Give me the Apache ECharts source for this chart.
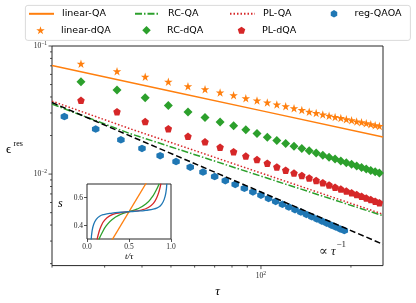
<!DOCTYPE html>
<html><head><meta charset="utf-8">
<script src="https://cdn.jsdelivr.net/npm/echarts@6/dist/echarts.min.js"></script>
<style>html,body{margin:0;padding:0;background:#fff}#c{width:416px;height:303px}</style>
</head><body><div id="c"></div>
<script>
// ---------- data ----------
const lineTau = [20, 50, 100, 256];
const linearQA = [0.0705, 0.0444, 0.0313, 0.0195];
const rcQA_tau = [20, 36.5, 100, 256];
const rcQA = [0.0352, 0.0207, 0.00964, 0.00473];
const plQA_tau = [20, 36.5, 100, 256];
const plQA = [0.0371, 0.0226, 0.0102, 0.00486];
const fitTau = [20, 100, 256];
const fitInvTau = [0.0362, 0.00725, 0.00283];

const dqaTau = [25,33,41,49,57,65,73,81,89,97,105,113,121,129,137,145,153,161,169,177,185,193,201,209,217,225,233,241,249];
const linearDQA = [0.0727,0.0634,0.0575,0.0526,0.0486,0.0459,0.0433,0.0412,0.0391,0.0376,0.0362,0.0350,0.0338,0.0326,0.0316,0.0307,0.0300,0.02925,0.02859,0.02794,0.02735,0.02683,0.0263,0.02579,0.02534,0.0249,0.02446,0.02407,0.02369];
const rcDQA = [0.0526,0.0453,0.0395,0.0343,0.0305,0.0276,0.0255,0.0238,0.0222,0.0207,0.0194,0.01826,0.01732,0.0165,0.01585,0.01519,0.01461,0.01405,0.01356,0.01311,0.01268,0.01228,0.01191,0.01158,0.01126,0.01096,0.01068,0.01041,0.01018];
const plDQA = [0.0377,0.0307,0.0257,0.0226,0.0197,0.01785,0.01622,0.01495,0.01383,0.01297,0.01215,0.01138,0.01073,0.01018,0.00977,0.00933,0.00893,0.00856,0.00823,0.00791,0.00764,0.00737,0.00714,0.00692,0.0067,0.0065,0.00632,0.00615,0.00598];

const qaoaTau = [22,28,34,40,46,52,58,64,70,76,82,88,94,100,106,112,118,124,130,136,142,148,154,160,166,172,178,184,190];
const regQAOA = [0.0281,0.02247,0.0185,0.01587,0.01393,0.01253,0.01133,0.01036,0.00956,0.00889,0.00831,0.00774,0.00725,0.00684,0.00645,0.00611,0.00581,0.00553,0.00527,0.00505,0.00484,0.00464,0.00446,0.00429,0.00414,0.00399,0.00386,0.00373,0.00362];

// inset schedules s(t/tau)
const insetLinear = [[0,0],[1,1]];
const insetRC = [[0.14,0.30],[0.18,0.35],[0.23,0.40],[0.30,0.445],[0.40,0.48],[0.50,0.50],[0.60,0.52],[0.70,0.555],[0.77,0.60],[0.82,0.65],[0.86,0.70]];
const insetPL = [[0.12,0.30],[0.14,0.35],[0.17,0.40],[0.21,0.44],[0.27,0.47],[0.35,0.488],[0.50,0.50],[0.65,0.512],[0.73,0.53],[0.79,0.56],[0.83,0.60],[0.86,0.65],[0.88,0.70]];
const insetQAOA = [[0.05,0.30],[0.06,0.36],[0.08,0.41],[0.11,0.445],[0.15,0.468],[0.20,0.48],[0.30,0.49],[0.40,0.496],[0.50,0.50],[0.60,0.504],[0.70,0.51],[0.80,0.52],[0.85,0.532],[0.89,0.555],[0.92,0.59],[0.94,0.64],[0.95,0.70]];

// ticks
const xMajorTicks = [100];
const xMinorTicks = [20,30,40,50,60,70,80,90,200];
const yMajorTicks = [0.01, 0.1];
const yMinorTicks = [0.002,0.003,0.004,0.005,0.006,0.007,0.008,0.009,0.02,0.03,0.04,0.05,0.06,0.07,0.08,0.09];
const insetXTicks = [0, 0.5, 1];
const insetYTicks = [0.4, 0.6];

const X_MIN = 20, X_MAX = 256, Y_MIN = 0.00193, Y_MAX = 0.1;

// ---------- helpers ----------
const zip = (a, b) => a.map((v, i) => [v, b[i]]);
const C = {orange:'#ff7f0e', green:'#2ca02c', red:'#d62728', blue:'#1f77b4'};
const STAR = 'path://M0,-10L2.245,-3.09L9.511,-3.09L3.633,1.18L5.878,8.09L0,3.82L-5.878,8.09L-3.633,1.18L-9.511,-3.09L-2.245,-3.09Z';
const PENT = 'path://M0,-10L9.511,-3.09L5.878,8.09L-5.878,8.09L-9.511,-3.09Z';
const HEX = 'path://M0,-10L8.66,-5L8.66,5L0,10L-8.66,5L-8.66,-5Z';
const SERIF = '"Liberation Serif","DejaVu Serif",serif';
const AX = '#262626';

function pow10Label(v) {
  const e = Math.log10(v), r = Math.round(e);
  if (Math.abs(e - r) > 1e-6) return '';
  return '{b|10}{s|' + (r < 0 ? '\u2212' : '') + Math.abs(r) + '}';
}
const tickRich = {
  b: {fontFamily: SERIF, fontSize: 7.5, color: AX},
  s: {fontFamily: SERIF, fontSize: 5.5, color: AX, padding: [0, 0, 5, 0]}
};

const tickData = [];
xMajorTicks.forEach(v => tickData.push([v, Y_MIN, 0]));
xMinorTicks.forEach(v => tickData.push([v, Y_MIN, 1]));
yMajorTicks.forEach(v => tickData.push([X_MIN, v, 2]));
yMinorTicks.forEach(v => tickData.push([X_MIN, v, 3]));

function renderTick(params, api) {
  const p = api.coord([api.value(0), api.value(1)]);
  const t = api.value(2);
  const len = (t === 0 || t === 2) ? 3.5 : 2;
  const shape = t < 2 ? {x1: p[0], y1: p[1], x2: p[0], y2: p[1] + len}
                      : {x1: p[0] - len, y1: p[1], x2: p[0], y2: p[1]};
  return {type: 'line', shape: shape, style: {stroke: AX, lineWidth: 0.8}};
}

const LTEXT = {fontFamily: '"DejaVu Sans"', fontSize: 9.5, color: '#000'};
function lineLegend(name, left, cy) {
  return {
    data: [name], left: left, top: cy - 5.5, padding: 0, orient: 'vertical',
    itemWidth: 25, itemHeight: 7, selectedMode: false,
    itemStyle: {opacity: 0},
    textStyle: Object.assign({padding: [0, 0, 0, 3]}, LTEXT)
  };
}
function markLegend(name, left, cy, size) {
  return {
    data: [name], left: left + 12.5 - size / 2, top: cy - 5.5, padding: 0, orient: 'vertical',
    itemWidth: size, itemHeight: size, selectedMode: false, symbolKeepAspect: true,
    itemStyle: {opacity: 1},
    textStyle: Object.assign({padding: [0, 0, 0, 33 - 5 - (12.5 + size / 2)]}, LTEXT)
  };
}

const option = {
  animation: false,
  backgroundColor: '#fff',
  grid: [
    {left: 52, top: 46, width: 331, height: 223, show: true, borderColor: AX, borderWidth: 1, backgroundColor: 'transparent'},
    {left: 87, top: 184, width: 84, height: 55, show: true, borderColor: AX, borderWidth: 1, backgroundColor: '#fff'}
  ],
  xAxis: [
    {type: 'log', logBase: 10, gridIndex: 0, min: X_MIN, max: X_MAX,
     axisLine: {show: false}, axisTick: {show: false}, splitLine: {show: false}, minorTick: {show: false},
     axisLabel: {formatter: pow10Label, rich: tickRich, margin: 5, showMinLabel: false, showMaxLabel: false},
     name: '\u03c4', nameLocation: 'middle', nameGap: 14,
     nameTextStyle: {fontFamily: SERIF, fontStyle: 'italic', fontSize: 13, color: '#000'}},
    {type: 'value', gridIndex: 1, min: 0, max: 1, interval: 0.5,
     axisLine: {show: false}, splitLine: {show: false},
     axisTick: {show: true, length: 3, lineStyle: {color: AX, width: 0.8}},
     axisLabel: {formatter: v => v.toFixed(1), fontFamily: SERIF, fontSize: 7.5, color: AX, margin: 4},
     name: 't/\u03c4', nameLocation: 'middle', nameGap: 13,
     nameTextStyle: {fontFamily: SERIF, fontStyle: 'italic', fontSize: 9, color: '#000'}}
  ],
  yAxis: [
    {type: 'log', logBase: 10, gridIndex: 0, min: Y_MIN, max: Y_MAX,
     axisLine: {show: false}, axisTick: {show: false}, splitLine: {show: false},
     axisLabel: {formatter: pow10Label, rich: tickRich, margin: 5, showMinLabel: false}},
    {type: 'value', gridIndex: 1, min: 0.305, max: 0.698,
     axisLine: {show: false}, splitLine: {show: false},
     axisTick: {show: true, length: 3, customValues: insetYTicks, lineStyle: {color: AX, width: 0.8}},
     axisLabel: {customValues: insetYTicks, formatter: v => v.toFixed(1), fontFamily: SERIF, fontSize: 7.5, color: AX, margin: 4}}
  ],
  legend: [
    lineLegend('linear-QA', 28, 14.3), markLegend('linear-dQA', 28, 30.7, 8.5),
    lineLegend('RC-QA', 134, 14.3), markLegend('RC-dQA', 134, 30.7, 8.5),
    lineLegend('PL-QA', 229, 14.3), markLegend('PL-dQA', 229, 30.7, 7.5),
    markLegend('reg-QAOA', 322, 14.3, 7.5)
  ],
  graphic: [
    {type: 'rect', left: 25, top: 5, z: 0, shape: {width: 385, height: 35, r: 2.5},
     style: {fill: '#fff', stroke: '#d0d0d0', lineWidth: 0.8}},
    {type: 'text', left: 6, top: 143, style: {text: '\u03f5', fontFamily: SERIF, fontSize: 13, fill: '#000'}},
    {type: 'text', left: 13.5, top: 139.5, style: {text: 'res', fontFamily: SERIF, fontSize: 8, fill: '#000'}},
    {type: 'text', left: 58, top: 198, style: {text: 's', fontFamily: SERIF, fontStyle: 'italic', fontSize: 12, fill: '#000'}},
    {type: 'text', left: 319, top: 245, style: {text: '\u221d \u03c4', fontFamily: SERIF, fontStyle: 'italic', fontSize: 13, fill: '#222'}},
    {type: 'text', left: 336.5, top: 240.5, style: {text: '\u22121', fontFamily: SERIF, fontSize: 9, fill: '#222'}}
  ],
  series: [
    {name: 'linear-QA', type: 'line', data: zip(lineTau, linearQA), symbol: 'none', color: C.orange,
     lineStyle: {width: 1.5, color: C.orange}},
    {name: 'RC-QA', type: 'line', data: zip(rcQA_tau, rcQA), symbol: 'none', color: C.green,
     lineStyle: {width: 1.5, color: C.green, type: [7, 2, 1.5, 2]}},
    {name: 'PL-QA', type: 'line', data: zip(plQA_tau, plQA), symbol: 'none', color: C.red,
     lineStyle: {width: 1.5, color: C.red, type: [1.5, 2]}},
    {name: 'linear-dQA', type: 'scatter', data: zip(dqaTau, linearDQA), symbol: STAR, symbolSize: 8.5,
     itemStyle: {color: C.orange, opacity: 1}},
    {name: 'RC-dQA', type: 'scatter', data: zip(dqaTau, rcDQA), symbol: 'diamond', symbolSize: 9,
     itemStyle: {color: C.green, opacity: 1}},
    {name: 'PL-dQA', type: 'scatter', data: zip(dqaTau, plDQA), symbol: PENT, symbolSize: 7.5,
     itemStyle: {color: C.red, opacity: 1}},
    {name: 'reg-QAOA', type: 'scatter', data: zip(qaoaTau, regQAOA), symbol: HEX, symbolSize: 7.5,
     itemStyle: {color: C.blue, opacity: 1}},
    {name: 'fit', type: 'line', data: zip(fitTau, fitInvTau), symbol: 'none', color: '#000',
     lineStyle: {width: 1.5, color: '#000', type: [6, 3]}},
    {name: 'ticks', type: 'custom', data: tickData, renderItem: renderTick, clip: false, silent: true, z: 5},
    {name: 'sLinear', type: 'line', xAxisIndex: 1, yAxisIndex: 1, data: insetLinear, symbol: 'none',
     lineStyle: {width: 1.3, color: C.orange}, z: 6},
    {name: 'sRC', type: 'line', xAxisIndex: 1, yAxisIndex: 1, data: insetRC, symbol: 'none', smooth: true,
     lineStyle: {width: 1.3, color: C.green}, z: 6},
    {name: 'sPL', type: 'line', xAxisIndex: 1, yAxisIndex: 1, data: insetPL, symbol: 'none', smooth: true,
     lineStyle: {width: 1.3, color: C.red}, z: 6},
    {name: 'sQAOA', type: 'line', xAxisIndex: 1, yAxisIndex: 1, data: insetQAOA, symbol: 'none', smooth: true,
     lineStyle: {width: 1.3, color: C.blue}, z: 6}
  ]
};
const chart = echarts.init(document.getElementById('c'));
chart.setOption(option);
</script></body></html>
